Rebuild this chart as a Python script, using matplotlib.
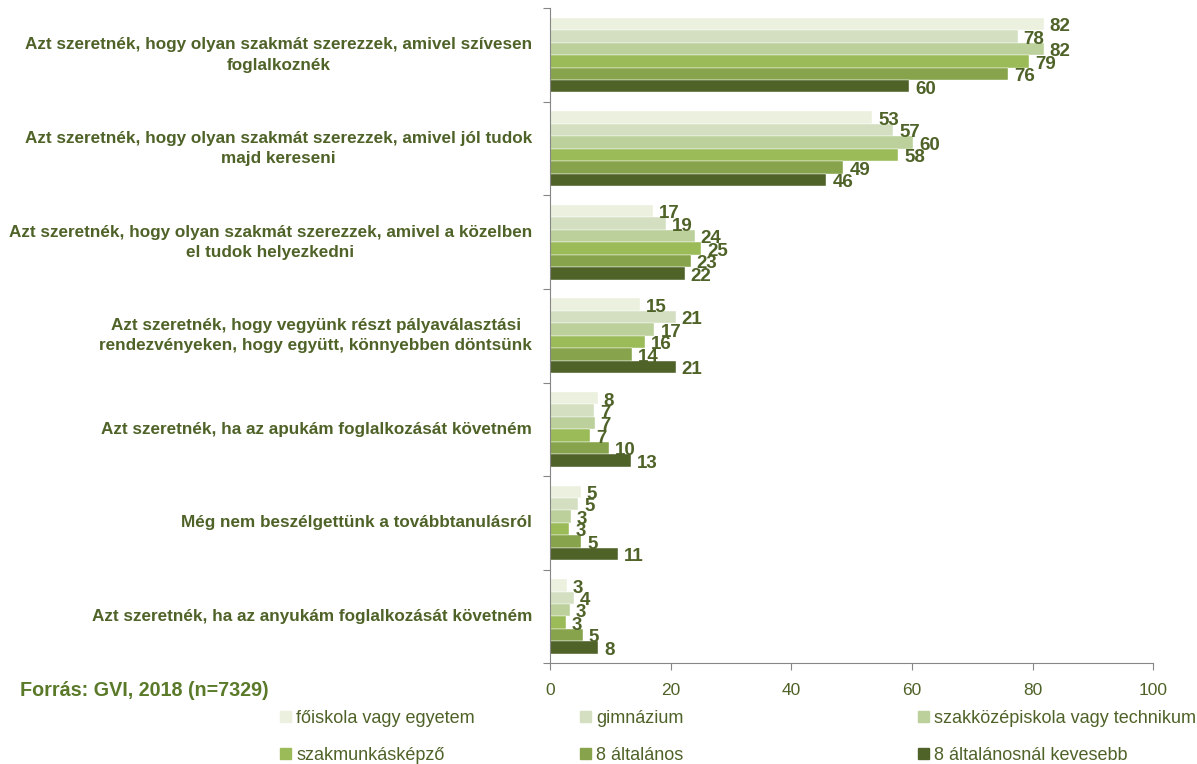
import matplotlib.pyplot as plt
import numpy as np
from matplotlib.patches import Patch

plt.rcParams['font.family'] = ['Liberation Sans', 'DejaVu Sans']

categories = [
    "Azt szeretnék, hogy olyan szakmát szerezzek, amivel szívesen\nfoglalkoznék",
    "Azt szeretnék, hogy olyan szakmát szerezzek, amivel jól tudok\nmajd kereseni",
    "Azt szeretnék, hogy olyan szakmát szerezzek, amivel a közelben\nel tudok helyezkedni",
    "Azt szeretnék, hogy vegyünk részt pályaválasztási\nrendezvényeken, hogy együtt, könnyebben döntsünk",
    "Azt szeretnék, ha az apukám foglalkozását követném",
    "Még nem beszélgettünk a továbbtanulásról",
    "Azt szeretnék, ha az anyukám foglalkozását követném",
]
series_names = ["főiskola vagy egyetem", "gimnázium", "szakközépiskola vagy technikum",
                "szakmunkásképző", "8 általános", "8 általánosnál kevesebb"]

foiskola = [81.8, 53.4, 17.1, 14.9, 7.9, 5.1, 2.8]
gimnazium = [77.5, 56.9, 19.2, 20.8, 7.3, 4.7, 3.9]
szakkozep = [81.8, 60.2, 24.0, 17.3, 7.4, 3.4, 3.3]
szakmunkas = [79.4, 57.7, 25.0, 15.8, 6.6, 3.2, 2.6]
altalanos8 = [75.9, 48.6, 23.3, 13.6, 9.8, 5.2, 5.4]
kevesebb8 = [59.5, 45.8, 22.3, 20.8, 13.4, 11.3, 8.0]

series = [foiskola, gimnazium, szakkozep, szakmunkas, altalanos8, kevesebb8]
colors = ["#EBF1DE", "#D3DFC0", "#BBD09A", "#9BBB59", "#87A34C", "#4F6228"]
txt = "#4F6228"

fig = plt.figure(figsize=(11.97, 7.64), dpi=100)
ax = fig.add_axes([0.4595, 0.132, 0.504, 0.857])

y = np.arange(len(categories))
h = 0.133
for j, vals in enumerate(series):
    pos = y + (j - 2.5) * h
    ax.barh(pos, vals, height=h, color=colors[j], edgecolor="white", linewidth=0.3)
    for p, v in zip(pos, vals):
        ax.text(v + 1.0, p + 0.03, f"{v:.0f}", va="center", ha="left",
                fontsize=13.5, fontweight="bold", color=txt)

ax.set_ylim(len(categories) - 0.5, -0.5)
ax.set_xlim(0, 100)
ax.set_xticks([0, 20, 40, 60, 80, 100])
ax.tick_params(axis="x", colors="#868686", labelcolor=txt, labelsize=12.5, length=5, pad=9)

ax.set_yticks(np.arange(len(categories) + 1) - 0.5)
ax.set_yticklabels([])
ax.tick_params(axis="y", colors="#868686", length=5)
# labels right-aligned next to the axis, lines centred among themselves
for i, c in enumerate(categories):
    ax.annotate(c, xy=(0, i), xycoords=("axes fraction", "data"), xytext=(-18, 0),
                textcoords="offset pixels", ha="right", va="center", fontsize=12.3,
                fontweight="bold", color=txt, multialignment="center", linespacing=1.45)

for s in ["top", "right"]:
    ax.spines[s].set_visible(False)
for s in ["left", "bottom"]:
    ax.spines[s].set_color("#868686")

fig.text(20 / 1197, 1 - 690 / 764, "Forrás: GVI, 2018 (n=7329)", fontsize=14.2,
         fontweight="bold", color="#5A7A2A", va="center", ha="left")

handles = [Patch(color=c) for c in colors]
xs = [280, 580, 918]
for k in range(3):
    leg = fig.legend([handles[k], handles[k + 3]], [series_names[k], series_names[k + 3]],
                     loc="upper left", bbox_to_anchor=(xs[k] / 1197, 1 - 710 / 764),
                     frameon=False, fontsize=13, handlelength=0.6, handleheight=0.6,
                     handletextpad=0.3, labelspacing=1.1, borderaxespad=0, borderpad=0)
    for t in leg.get_texts():
        t.set_color(txt)

fig.savefig("out.png", dpi=100)
